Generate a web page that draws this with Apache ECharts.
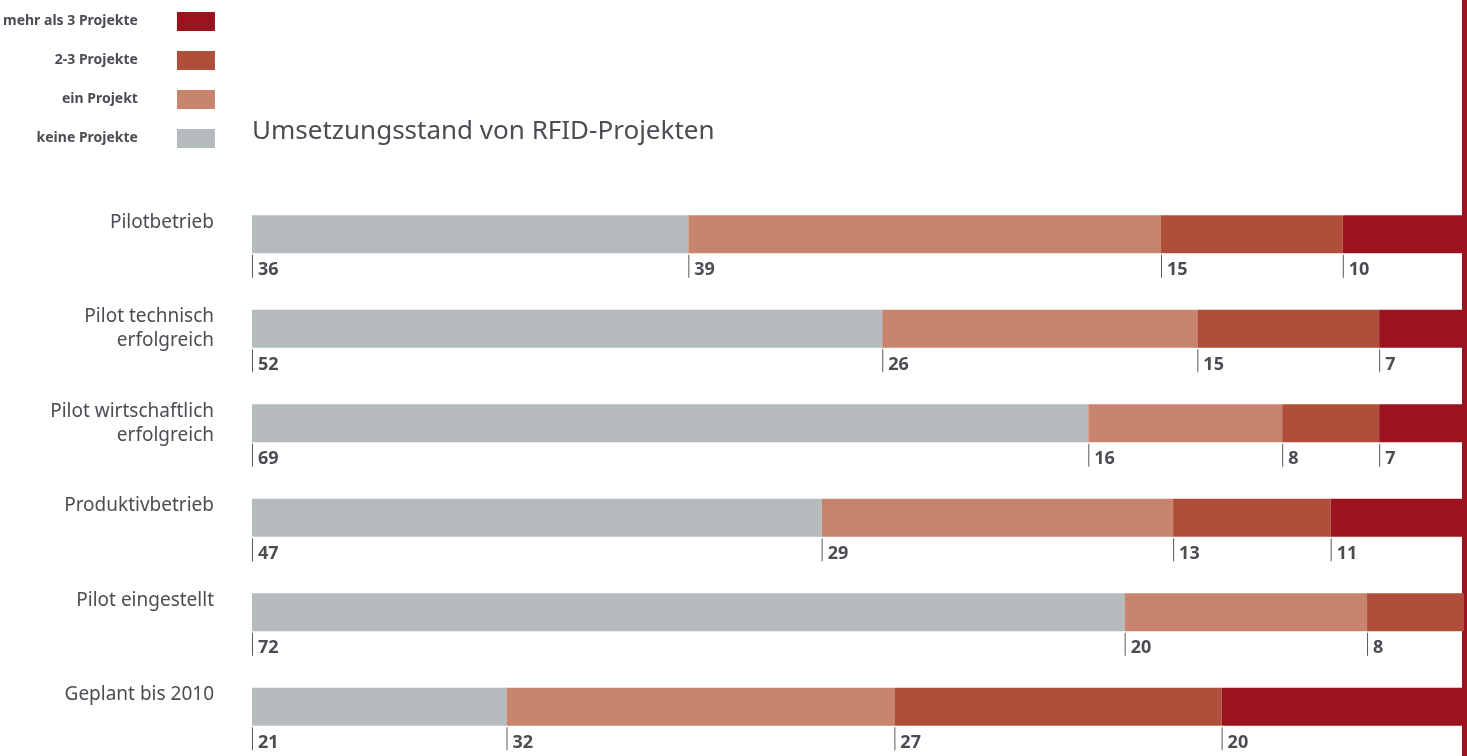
<!DOCTYPE html>
<html>
<head>
<meta charset="utf-8">
<script src="https://cdn.jsdelivr.net/npm/echarts@6/dist/echarts.min.js"></script>
<style>
  html, body { margin: 0; padding: 0; background: #fff; }
  #chart { width: 1467px; height: 756px; }
</style>
</head>
<body>
<div id="chart"></div>
<script>
// Kategorien (von oben nach unten)
const categories = ['Pilotbetrieb', 'Pilot technisch\nerfolgreich', 'Pilot wirtschaftlich\nerfolgreich', 'Produktivbetrieb', 'Pilot eingestellt', 'Geplant bis 2010']
// Anteile in Prozent
const keineProjekte = [36, 52, 69, 47, 72, 21]
const einProjekt = [39, 26, 16, 29, 20, 32]
const zweiDreiProjekte = [15, 15, 8, 13, 8, 27]
const mehrAls3 = [10, 7, 7, 11, 0, 20]
const legendOrder = ['mehr als 3 Projekte', '2-3 Projekte', 'ein Projekt', 'keine Projekte']

const textColor = '#4a4d52'
const font = 'Noto Sans'

const chart = echarts.init(document.getElementById('chart'))

function makeSeries (name, data, color) {
  return {
    name: name,
    type: 'bar',
    stack: 'total',
    data: data,
    barWidth: 38,
    itemStyle: { color: color },
    label: {
      show: true,
      position: [0, '100%'],
      formatter: p => p.value ? '{t|}{v|' + p.value + '}' : '',
      rich: {
        t: { width: 1, height: 23, backgroundColor: '#555a5e' },
        v: { fontFamily: font, fontWeight: 'bold', fontSize: 18, color: textColor, padding: [8, 0, 0, 5] }
      }
    }
  }
}

const option = {
  animation: false,
  title: {
    text: 'Umsetzungsstand von RFID-Projekten',
    left: 247,
    top: 114,
    textStyle: { fontFamily: font, fontWeight: 'normal', fontSize: 26, color: textColor }
  },
  legend: {
    data: legendOrder,
    orient: 'vertical',
    align: 'right',
    left: -2,
    top: 7,
    itemWidth: 38,
    itemHeight: 19,
    itemGap: 20,
    icon: 'rect',
    textStyle: {
      fontFamily: font, fontWeight: 'bold', fontSize: 14, color: textColor,
      width: 126, align: 'right', padding: [0, 34, 0, 0]
    }
  },
  grid: { left: 252, right: 3, top: 187, bottom: 2 },
  xAxis: { type: 'value', min: 0, max: 100, show: false },
  yAxis: {
    type: 'category',
    data: categories,
    inverse: true,
    axisLine: { show: false },
    axisTick: { show: false },
    axisLabel: {
      margin: 38,
      fontFamily: font,
      fontSize: 19,
      lineHeight: 24,
      color: textColor,
      formatter: v => v.indexOf('\n') < 0 ? v + '\n ' : v
    }
  },
  series: [
    makeSeries('keine Projekte', keineProjekte, '#b6bbbd'),
    makeSeries('ein Projekt', einProjekt, '#c8856d'),
    makeSeries('2-3 Projekte', zweiDreiProjekte, '#b04f39'),
    makeSeries('mehr als 3 Projekte', mehrAls3, '#9b141d')
  ],
  graphic: [{
    type: 'rect',
    right: 0,
    top: 0,
    shape: { width: 5, height: 756 },
    style: { fill: '#9b141d' }
  }]
}

chart.setOption(option)
window.addEventListener('resize', () => {
  chart.resize()
})
</script>
</body>
</html>
